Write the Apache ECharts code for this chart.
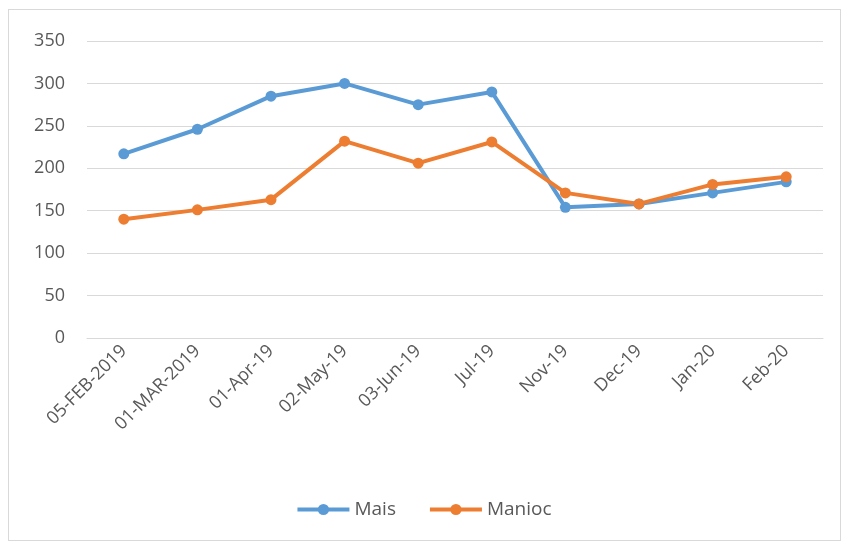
<!DOCTYPE html>
<html><head><meta charset="utf-8">
<script src="https://cdn.jsdelivr.net/npm/echarts@6/dist/echarts.min.js"></script>
<style>html,body{margin:0;padding:0;background:#fff}#c{width:847px;height:544px}
#frame{position:absolute;left:8px;top:9px;width:831px;height:530px;border:1px solid #d9d9d9;pointer-events:none}</style>
</head><body><div id="c"></div><div id="frame"></div>
<script>
const categories = ['05-FEB-2019','01-MAR-2019','01-Apr-19','02-May-19','03-Jun-19','Jul-19','Nov-19','Dec-19','Jan-20','Feb-20'];
const mais = [217, 246, 285, 300, 275, 290, 154, 158, 171, 184];
const manioc = [140, 151, 163, 232, 206, 231, 171, 158, 181, 190];
const yTicks = [0, 50, 100, 150, 200, 250, 300, 350];

const chart = echarts.init(document.getElementById('c'));
chart.setOption({
  animation: false,
  grid: {left: 87, right: 24, top: 41, bottom: 206, containLabel: false},
  legend: {
    top: 495, left: 'center', itemWidth: 52, itemHeight: 14, itemGap: 32,
    lineStyle: {width: 4},
    textStyle: {fontFamily: 'Open Sans', fontSize: 19, color: '#595959'},
    data: ['Mais', 'Manioc']
  },
  xAxis: {
    type: 'category', data: categories, boundaryGap: true,
    axisLine: {show: true, lineStyle: {color: '#d9d9d9', width: 1}},
    axisTick: {show: false},
    axisLabel: {rotate: 45, interval: 0, margin: 10, fontFamily: 'Open Sans', fontSize: 18, color: '#595959'}
  },
  yAxis: {
    type: 'value', min: 0, max: 350, interval: 50,
    axisLine: {show: false}, axisTick: {show: false},
    axisLabel: {margin: 22, fontFamily: 'Open Sans', fontSize: 18, color: '#595959',
      formatter: v => yTicks.includes(v) ? String(v) : ''},
    splitLine: {lineStyle: {color: '#d9d9d9', width: 1}}
  },
  series: [
    {name: 'Mais', type: 'line', data: mais, symbol: 'circle', symbolSize: 11,
     itemStyle: {color: '#5B9BD5'}, lineStyle: {width: 4, color: '#5B9BD5'}},
    {name: 'Manioc', type: 'line', data: manioc, symbol: 'circle', symbolSize: 11,
     itemStyle: {color: '#ED7D31'}, lineStyle: {width: 4, color: '#ED7D31'}}
  ]
});
</script></body></html>
